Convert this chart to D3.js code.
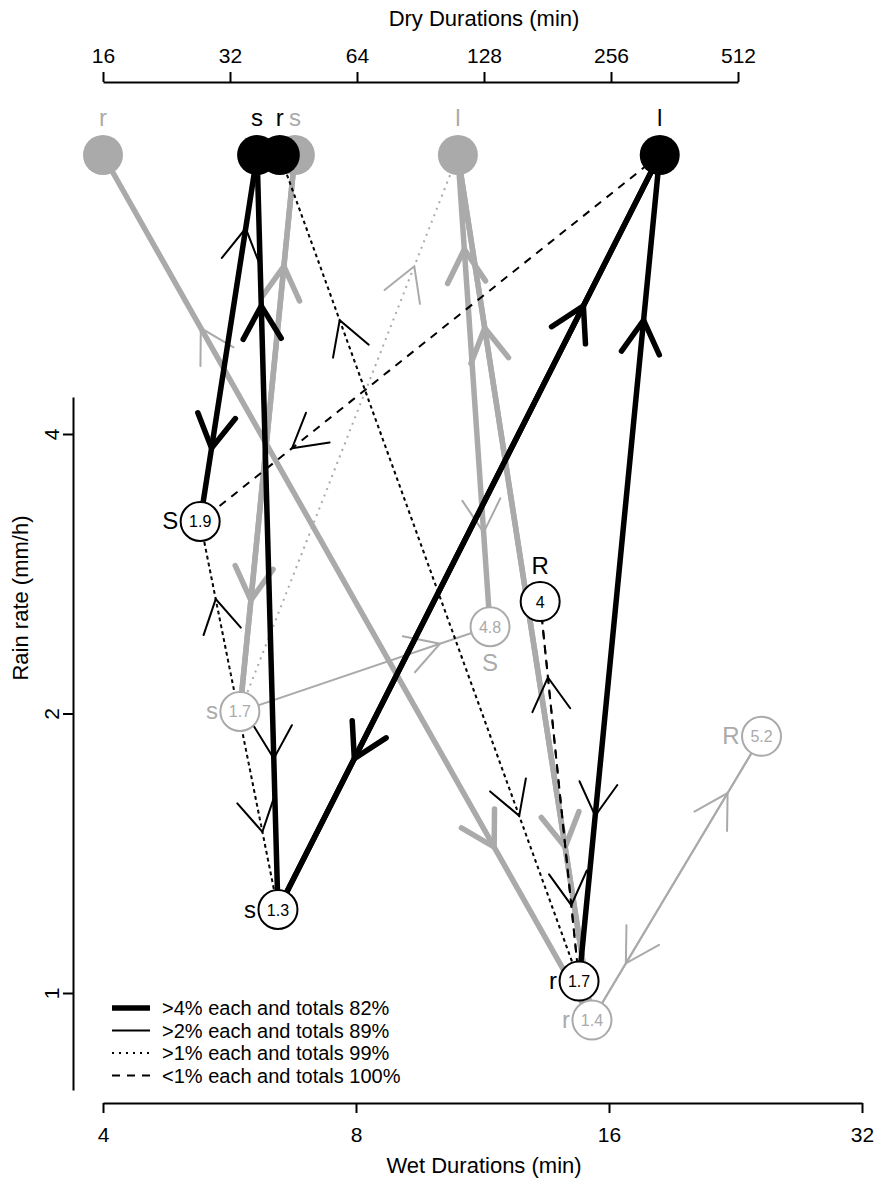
<!DOCTYPE html>
<html>
<head>
<meta charset="utf-8">
<script src="https://cdn.jsdelivr.net/npm/d3@7"></script>
<style>
  body { margin: 0; background: #fff; }
  text { font-family: "Liberation Sans", Arial, Helvetica, sans-serif; }
</style>
</head>
<body>
<svg id="chart" width="878" height="1185"></svg>
<script>
// ---- data -------------------------------------------------------------
// Dry-period states (mean dry duration, minutes)
const dryIds     = ["d_gr", "d_gs", "d_gl", "d_ks", "d_kr", "d_kl"];
const dryLetters = ["r", "s", "l", "s", "r", "l"];
const dryMinutes = [16, 45.6, 111, 37.1, 42, 334];
const dryGroup   = ["g", "g", "g", "k", "k", "k"];

// Wet-period states (mean wet duration, minutes; mean rain rate, mm/h)
const wetIds     = ["w_gS", "w_gs", "w_gr", "w_gR", "w_kS", "w_ks", "w_kr", "w_kR"];
const wetLetters = ["S", "s", "r", "R", "S", "s", "r", "R"];
const wetMinutes = [11.55, 5.82, 15.27, 24.3, 5.22, 6.46, 14.74, 13.25];
const wetRain    = [2.48, 2.01, 0.935, 1.89, 3.22, 1.23, 1.03, 2.64];
const wetNumbers = ["4.8", "1.7", "1.4", "5.2", "1.9", "1.3", "1.7", "4"];
const wetGroup   = ["g", "g", "g", "g", "k", "k", "k", "k"];

// Transitions: source, target, frequency class (4: >4%, 2: >2%, 1: >1%, 0: <1%)
const transFrom  = ["w_gr","d_gr","w_gs","d_gs","w_gS","d_gl","w_gr","d_gl","w_gs","w_gs","w_gr","w_gR",
                    "d_ks","w_kS","w_ks","d_ks","w_ks","d_kl","w_kr","d_kl","d_kl","w_kr","d_kr","w_ks","w_kS","w_kr","w_kR"];
const transTo    = ["d_gr","w_gr","d_gs","w_gs","d_gl","w_gS","d_gl","w_gr","d_gl","w_gS","w_gR","w_gr",
                    "w_kS","d_ks","d_ks","w_ks","d_kl","w_ks","d_kl","w_kr","w_kS","d_kr","w_kr","w_kS","w_ks","w_kR","w_kr"];
const transClass = [2, 4, 4, 4, 4, 2, 4, 4, 1, 2, 2, 2,
                    4, 2, 4, 2, 4, 4, 4, 2, 0, 1, 1, 1, 1, 0, 0];

// Axis ticks
const dryTicks  = [16, 32, 64, 128, 256, 512];
const wetTicks  = [4, 8, 16, 32];
const rainTicks = [1, 2, 4];

// Legend
const legendClasses = [4, 2, 1, 0];
const legendLabels  = [">4% each and totals 82%", ">2% each and totals 89%",
                       ">1% each and totals 99%", "<1% each and totals 100%"];

// ---- layout & style ---------------------------------------------------
const svg = d3.select("#chart");
const GREY = "#aaaaaa", BLACK = "#000000";
const colour = g => g === "g" ? GREY : BLACK;
const DRY_Y = 155;

const xDry  = d3.scaleLog().base(2).domain([16, 512]).range([103, 738]);
const xWet  = d3.scaleLog().base(2).domain([4, 32]).range([103, 862]);
const yRain = d3.scaleLog().base(2).domain([1, 4]).range([993, 434]);

const lineStyle = {
  4: { w: 5.5, dash: null },
  2: { w: 2,   dash: null },
  1: { w: 2,   dash: "2,5" },
  0: { w: 2,   dash: "8,7" }
};
// label placement for wet states
const wetLabelSide = { w_gS: "below", w_gs: "left", w_gr: "left", w_gR: "left",
                       w_kS: "left", w_ks: "left", w_kr: "left", w_kR: "above" };

// node positions
const pos = {};
dryIds.forEach((id, i) => pos[id] = { x: xDry(dryMinutes[i]), y: DRY_Y, g: dryGroup[i] });
wetIds.forEach((id, i) => pos[id] = { x: xWet(wetMinutes[i]), y: yRain(wetRain[i]), g: wetGroup[i] });

const trans = transFrom.map((f, i) => ({ from: f, to: transTo[i], cls: transClass[i], g: pos[f].g }));

// ---- axes -------------------------------------------------------------
function styleAxis(sel) {
  sel.select(".domain").attr("stroke", BLACK).attr("stroke-width", 2);
  sel.selectAll(".tick line").attr("stroke", BLACK).attr("stroke-width", 2);
  sel.selectAll(".tick text").attr("font-size", 21).attr("fill", BLACK)
     .attr("font-family", '"Liberation Sans", Arial, sans-serif');
}

const topAxis = svg.append("g").attr("transform", "translate(0,82)")
  .call(d3.axisTop(xDry).tickValues(dryTicks).tickFormat(d3.format("d"))
          .tickSize(10).tickSizeOuter(0).tickPadding(9));
styleAxis(topAxis);

const botAxis = svg.append("g").attr("transform", "translate(0,1103)")
  .call(d3.axisBottom(xWet).tickValues(wetTicks).tickFormat(d3.format("d"))
          .tickSize(10).tickSizeOuter(0).tickPadding(14));
styleAxis(botAxis);

const yAxisScale = yRain.copy().domain([yRain.invert(1090), yRain.invert(397)]).range([1090, 397]);
const leftAxis = svg.append("g").attr("transform", "translate(73,0)")
  .call(d3.axisLeft(yAxisScale).tickValues(rainTicks).tickFormat(d3.format("d"))
          .tickSize(10).tickSizeOuter(0));
styleAxis(leftAxis);
leftAxis.selectAll(".tick text")
  .attr("transform", "rotate(-90)").attr("x", 0).attr("y", -14).attr("dy", 0)
  .attr("text-anchor", "middle");

svg.append("text").attr("x", 484).attr("y", 26).attr("text-anchor", "middle")
  .attr("font-size", 22).text("Dry Durations (min)");
svg.append("text").attr("x", 484).attr("y", 1173).attr("text-anchor", "middle")
  .attr("font-size", 22).text("Wet Durations (min)");
svg.append("text").attr("transform", "translate(28,598) rotate(-90)")
  .attr("text-anchor", "middle").attr("font-size", 22).text("Rain rate (mm/h)");

// ---- transitions ------------------------------------------------------
const ARROW_AT = 0.8, HEAD_LEN = 38, HEAD_ANG = Math.PI / 6;

function drawGroup(g) {
  const layer = svg.append("g");
  const items = trans.filter(t => t.g === g).sort((a, b) => a.cls - b.cls);
  items.forEach(t => {
    const a = pos[t.from], b = pos[t.to], st = lineStyle[t.cls];
    layer.append("line")
      .attr("x1", a.x).attr("y1", a.y).attr("x2", b.x).attr("y2", b.y)
      .attr("stroke", colour(g)).attr("stroke-width", st.w)
      .attr("stroke-dasharray", st.dash)
      .attr("stroke-linecap", st.dash ? "butt" : "round");
  });
  items.forEach(t => {
    const a = pos[t.from], b = pos[t.to];
    const dx = b.x - a.x, dy = b.y - a.y, len = Math.hypot(dx, dy);
    const ux = dx / len, uy = dy / len;
    const tx = a.x + ARROW_AT * dx, ty = a.y + ARROW_AT * dy;
    const arm = s => {
      const c = Math.cos(s * HEAD_ANG), sn = Math.sin(s * HEAD_ANG);
      const rx = -(ux * c - uy * sn), ry = -(ux * sn + uy * c);
      return [tx + HEAD_LEN * rx, ty + HEAD_LEN * ry];
    };
    const p1 = arm(1), p2 = arm(-1);
    layer.append("path")
      .attr("d", `M${p1[0]},${p1[1]}L${tx},${ty}L${p2[0]},${p2[1]}`)
      .attr("fill", "none").attr("stroke", colour(g))
      .attr("stroke-width", t.cls === 4 ? 5.5 : 2)
      .attr("stroke-linecap", "round").attr("stroke-linejoin", "miter");
  });
}
drawGroup("g");
drawGroup("k");

// ---- dry states -------------------------------------------------------
["g", "k"].forEach(g => {
  dryIds.forEach((id, i) => {
    if (dryGroup[i] !== g) return;
    const p = pos[id];
    svg.append("circle").attr("cx", p.x).attr("cy", p.y).attr("r", 20).attr("fill", colour(g));
    svg.append("text").attr("x", p.x).attr("y", p.y - 29).attr("text-anchor", "middle")
      .attr("font-size", 24).attr("fill", colour(g)).text(dryLetters[i]);
  });
});

// ---- wet states -------------------------------------------------------
["g", "k"].forEach(g => {
  wetIds.forEach((id, i) => {
    if (wetGroup[i] !== g) return;
    const p = pos[id], c = colour(g);
    svg.append("circle").attr("cx", p.x).attr("cy", p.y).attr("r", 19.5)
      .attr("fill", "#fff").attr("stroke", c).attr("stroke-width", 2);
    svg.append("text").attr("x", p.x).attr("y", p.y + 6).attr("text-anchor", "middle")
      .attr("font-size", 16).attr("fill", c).text(wetNumbers[i]);
    const side = wetLabelSide[id];
    const lab = svg.append("text").attr("font-size", 24).attr("fill", c).text(wetLetters[i]);
    if (side === "left") lab.attr("x", p.x - 22).attr("y", p.y + 8).attr("text-anchor", "end");
    else if (side === "above") lab.attr("x", p.x).attr("y", p.y - 28).attr("text-anchor", "middle");
    else lab.attr("x", p.x).attr("y", p.y + 44).attr("text-anchor", "middle");
  });
});

// ---- legend -----------------------------------------------------------
const legend = svg.append("g");
legendClasses.forEach((cls, i) => {
  const y = 1008 + i * 22.5, st = lineStyle[cls];
  legend.append("line").attr("x1", 112).attr("x2", 150).attr("y1", y).attr("y2", y)
    .attr("stroke", BLACK).attr("stroke-width", st.w).attr("stroke-dasharray", st.dash);
  legend.append("text").attr("x", 162).attr("y", y + 7).attr("font-size", 20).text(legendLabels[i]);
});
</script>
</body>
</html>
